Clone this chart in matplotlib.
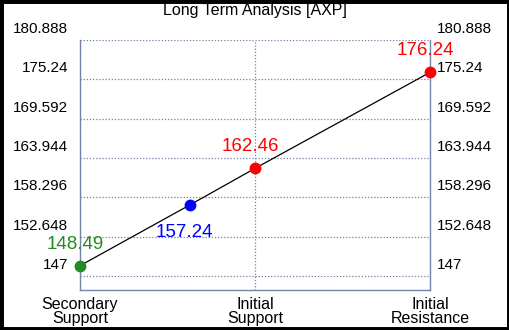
import matplotlib
matplotlib.use("Agg")
import matplotlib.pyplot as plt
from matplotlib.transforms import ScaledTranslation
from matplotlib.patches import Rectangle

plt.rcParams['font.family'] = ['Liberation Sans', 'DejaVu Sans']

# Data
categories = ["Secondary\nSupport", "Initial\nSupport", "Initial\nResistance"]
x_pos = [0, 0.63, 1, 2]
values = [148.49, 157.24, 162.46, 176.24]
point_colors = ["#228B22", "#0000FF", "#FF0000", "#FF0000"]
label_offsets = [(-5, 21), (-6, -28), (-5, 22), (-5, 22)]
y_ticks = [147, 152.648, 158.296, 163.944, 169.592, 175.24, 180.888]
y_tick_labels = ["147", "152.648", "158.296", "163.944", "169.592", "175.24", "180.888"]

fig = plt.figure(figsize=(5.1, 3.3), dpi=100)
ax = fig.add_axes([80 / 510, 40 / 330, 350 / 510, 250 / 330])

ax.set_xlim(0, 2)
ax.set_ylim(145, 180.888)

# Line and points
ax.plot(x_pos, values, color="black", linewidth=0.9, zorder=2)
for x, v, c, (dx, dy) in zip(x_pos, values, point_colors, label_offsets):
    ax.plot(x, v, "o", color=c, markersize=7.5, zorder=3, clip_on=False)
    ax.annotate(f"{v:.2f}", (x, v), xytext=(dx * 0.72, dy * 0.72),
                textcoords="offset points", ha="center", va="center",
                color=c, fontsize=13.5)

# Grid
grid_color = "#7083a3"
ax.set_yticks(y_ticks)
ax.set_yticklabels(y_tick_labels)
ax.set_xticks([0, 1, 2])
ax.set_xticklabels(categories, linespacing=0.9)
ax.grid(True, color=grid_color, linestyle=(0, (1, 1.5)), linewidth=0.9)
ax.set_axisbelow(True)

for side in ["left", "right", "bottom"]:
    ax.spines[side].set_color("#7386a8")
    ax.spines[side].set_linewidth(1.0)
ax.spines["top"].set_visible(False)

ax.tick_params(axis="y", length=0, labelsize=11, labelright=True, pad=0)
ax.tick_params(axis="x", length=0, labelsize=11.5, pad=5)

for tick in ax.yaxis.get_major_ticks():
    tick.label1.set_transform(tick.label1.get_transform()
                              + ScaledTranslation(-0.12, 0.125, fig.dpi_scale_trans))
    tick.label2.set_transform(tick.label2.get_transform()
                              + ScaledTranslation(0.07, 0.125, fig.dpi_scale_trans))

fig.text(0.5, 1 - 11 / 330, "Long Term Analysis [AXP]", ha="center", va="center", fontsize=11.5)

# Black frame
fig.patches.append(Rectangle((0, 0), 1, 1, transform=fig.transFigure, fill=False,
                             edgecolor="black", linewidth=5, zorder=10))

fig.savefig("out.png", dpi=100)
